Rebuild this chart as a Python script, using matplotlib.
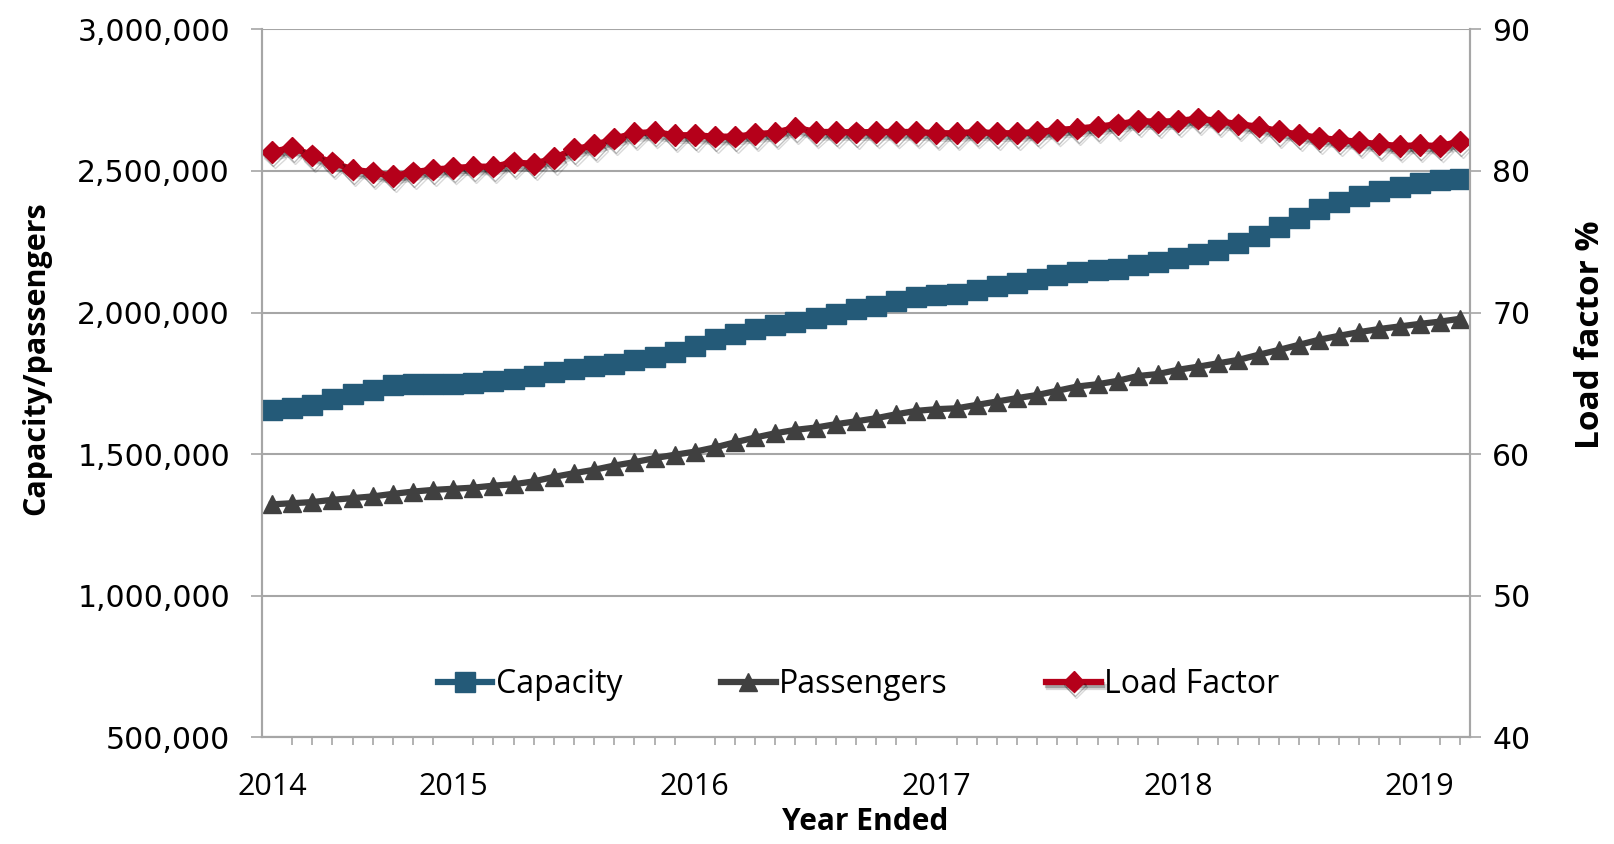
import numpy as np
import matplotlib.pyplot as plt
import matplotlib.patheffects as pe

# monthly series, year ended (60 months)
capacity = [
    1655000, 1662000, 1675000, 1694000, 1711000, 1726000, 1743000, 1749000,
    1749000, 1749000, 1753000, 1759000, 1765000, 1776000, 1791000, 1802000,
    1811000, 1820000, 1832000, 1843000, 1861000, 1882000, 1908000, 1926000,
    1943000, 1955000, 1967000, 1981000, 1996000, 2013000, 2023000, 2040000,
    2055000, 2061000, 2065000, 2079000, 2094000, 2106000, 2118000, 2134000,
    2143000, 2149000, 2155000, 2167000, 2177000, 2191000, 2205000, 2220000,
    2247000, 2269000, 2302000, 2335000, 2365000, 2391000, 2412000, 2428000,
    2444000, 2459000, 2467000, 2473000,
]
passengers = [
    1323000, 1327000, 1331000, 1339000, 1345000, 1351000, 1360000, 1368000,
    1374000, 1378000, 1382000, 1389000, 1394000, 1404000, 1420000, 1433000,
    1445000, 1460000, 1472000, 1486000, 1498000, 1509000, 1524000, 1542000,
    1559000, 1574000, 1586000, 1594000, 1606000, 1616000, 1627000, 1641000,
    1653000, 1659000, 1662000, 1674000, 1686000, 1698000, 1709000, 1724000,
    1739000, 1747000, 1759000, 1776000, 1783000, 1798000, 1809000, 1821000,
    1833000, 1851000, 1868000, 1886000, 1904000, 1918000, 1931000, 1942000,
    1951000, 1960000, 1968000, 1978000,
]
load_factor = [
    81.34, 81.65, 81.10, 80.60, 80.10, 79.90, 79.65, 79.90, 80.10, 80.20,
    80.30, 80.30, 80.60, 80.50, 80.90, 81.53, 81.81, 82.28, 82.66, 82.75,
    82.52, 82.52, 82.42, 82.42, 82.59, 82.70, 83.06, 82.75, 82.75, 82.72,
    82.75, 82.75, 82.75, 82.66, 82.66, 82.75, 82.66, 82.66, 82.75, 82.89,
    82.99, 83.13, 83.29, 83.53, 83.47, 83.53, 83.69, 83.53, 83.29, 83.13,
    82.80, 82.57, 82.33, 82.19, 82.05, 81.88, 81.76, 81.81, 81.76, 82.07,
]
year_pos = [0, 9, 21, 33, 45, 57]
year_labels = ["2014", "2015", "2016", "2017", "2018", "2019"]

c_cap = "#245a78"
c_pax = "#404040"
c_lf = "#b5001a"
c_grid = "#a6a6a6"

fig = plt.figure(figsize=(16.15, 8.44), dpi=100)
ax = fig.add_axes([0.1622, 0.1262, 0.9102 - 0.1622, 0.9653 - 0.1262])
ax2 = ax.twinx()

x = np.arange(len(capacity))

l1, = ax.plot(x, capacity, color=c_cap, lw=4.5, marker="s", ms=14, label="Capacity")
l2, = ax.plot(x, passengers, color=c_pax, lw=4.5, marker="^", ms=13, label="Passengers")
l3, = ax2.plot(x, load_factor, color=c_lf, lw=4.5, marker="D", ms=11, label="Load Factor")
# soft drop shadow under the load factor series
l3.set_path_effects([
    pe.SimpleLineShadow(offset=(2, -4), shadow_color="k", alpha=0.15),
    pe.SimpleLineShadow(offset=(1, -2.5), shadow_color="k", alpha=0.25),
    pe.Normal(),
])

ax.set_xlim(-0.5, len(capacity) - 0.5)
ax.set_ylim(500000, 3000000)
ax2.set_ylim(40, 90)
ax.set_yticks(np.arange(500000, 3000001, 500000))
ax2.set_yticks(np.arange(40, 91, 10))
ax.set_yticklabels([f"{v:,}" for v in range(500000, 3000001, 500000)])
ax.yaxis.grid(True, color=c_grid, lw=1.5)
ax.set_axisbelow(True)

ax.set_xticks(year_pos)
ax.set_xticklabels(year_labels)
ax.set_xticks(x, minor=True)
ax.tick_params(axis="x", which="major", length=0, pad=25, labelsize=22)
ax.tick_params(axis="x", which="minor", length=6, width=1.2, color=c_grid)
for lab in ax.get_xticklabels():
    lab.set_fontfamily("Open Sans")

ax.tick_params(axis="y", length=8, width=1.2, color=c_grid, pad=15, labelsize=21.5)
ax2.tick_params(axis="y", length=8, width=1.2, color=c_grid, pad=8, labelsize=21.5)

for a in (ax, ax2):
    a.spines["top"].set_visible(False)
    for s in ("left", "right", "bottom"):
        a.spines[s].set_color(c_grid)
        a.spines[s].set_linewidth(1.5)

fig.text(0.0223, 0.5758, "Capacity/passengers", rotation=90, ha="center", va="center",
         fontsize=22, fontweight="bold", family="Open Sans")
fig.text(0.985, 0.603, "Load factor %", rotation=90, ha="center", va="center",
         fontsize=24, fontweight="bold", family="Open Sans")
fig.text(0.5356, 0.026, "Year Ended", ha="center", va="center",
         fontsize=21.5, fontweight="bold", family="Open Sans")

leg = ax.legend(handles=[l1, l2, l3], loc="center", bbox_to_anchor=(0.494, 0.075),
                ncol=3, frameon=False, handlelength=1.7, handletextpad=0.1,
                columnspacing=3.1, prop={"family": "Open Sans", "size": 23})

fig.savefig("out.png", dpi=100)
